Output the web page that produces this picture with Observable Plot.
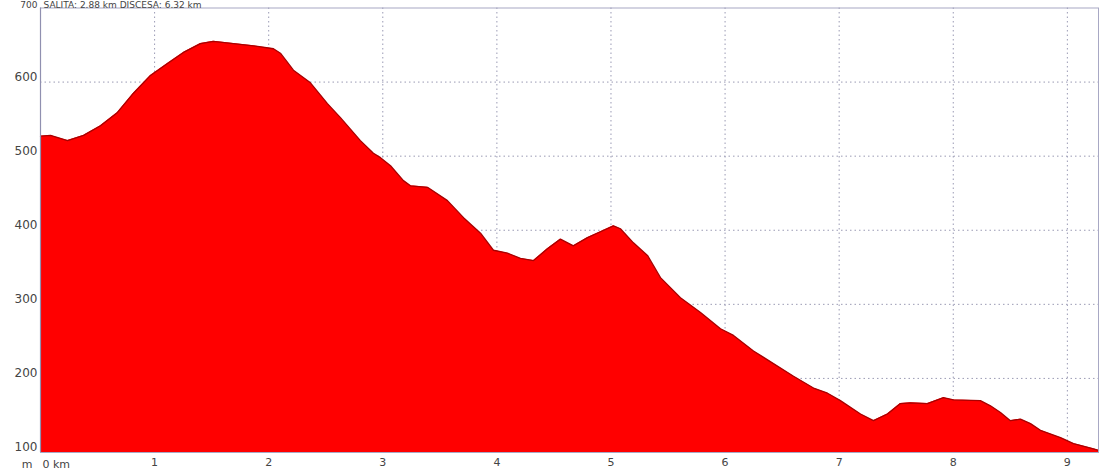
<!DOCTYPE html>
<html>
<head>
<meta charset="utf-8">
<script src="https://cdn.jsdelivr.net/npm/d3@7"></script>
<script src="https://cdn.jsdelivr.net/npm/@observablehq/plot@0.6"></script>
<style>
  html, body { margin: 0; padding: 0; background: #fff; }
  #chart { width: 1102px; height: 470px; overflow: hidden; }
</style>
</head>
<body>
<div id="chart"></div>
<script>
// Distance along the route (km)
const distanceKm = [0, 0.088, 0.237, 0.377, 0.526, 0.675, 0.815, 0.964, 1.113, 1.253, 1.402, 1.516, 1.691, 1.867, 2.042, 2.103, 2.217, 2.366, 2.515, 2.629, 2.804, 2.918, 2.980, 3.068, 3.181, 3.243, 3.392, 3.567, 3.708, 3.857, 3.970, 4.093, 4.207, 4.321, 4.443, 4.557, 4.671, 4.794, 4.908, 5.022, 5.083, 5.197, 5.320, 5.434, 5.609, 5.785, 5.960, 6.074, 6.249, 6.424, 6.600, 6.775, 6.898, 7.011, 7.187, 7.301, 7.423, 7.537, 7.625, 7.774, 7.914, 8.002, 8.238, 8.326, 8.414, 8.501, 8.589, 8.677, 8.764, 8.940, 9.054, 9.229, 9.273];
// Elevation (m)
const elevationM = [527, 528, 521, 528, 541, 559, 585, 609, 625, 640, 652, 655, 652, 649, 645, 639, 616, 599, 571, 552, 521, 504, 498, 487, 467, 460, 458, 440, 417, 396, 373, 369, 362, 359, 375, 388, 379, 390, 398, 406, 402, 383, 366, 336, 309, 289, 267, 258, 237, 220, 203, 187, 180, 170, 152, 143, 152, 166, 167, 166, 174, 171, 170, 163, 154, 143, 145, 139, 130, 120, 112, 105, 103];

const xTicks = [0, 1, 2, 3, 4, 5, 6, 7, 8, 9];
const yTicks = [100, 200, 300, 400, 500, 600];
const yTopTick = 700;
const xGrid = [1, 2, 3, 4, 5, 6, 7, 8, 9];
const yGrid = [200, 300, 400, 500, 600];
const headerText = "SALITA: 2.88 km DISCESA: 6.32 km";
const yUnit = "m";

const profile = distanceKm.map((d, i) => ({km: d, m: elevationM[i]}));

const chart = Plot.plot({
  width: 1102,
  height: 470,
  marginLeft: 40,
  marginRight: 4,
  marginTop: 7.5,
  marginBottom: 18,
  style: {fontFamily: "DejaVu Sans, sans-serif", background: "#fff"},
  x: {domain: [0, 9.273], axis: null, label: null},
  y: {domain: [100, 700], axis: null, label: null},
  marks: [
    Plot.ruleX(xGrid, {stroke: "#9a9ab4", strokeDasharray: "1.5,3", strokeWidth: 1}),
    Plot.ruleY(yGrid, {stroke: "#9a9ab4", strokeDasharray: "1.5,3", strokeWidth: 1}),
    Plot.areaY(profile, {x: "km", y1: 100, y2: "m", fill: "#ff0000", curve: "linear"}),
    Plot.lineY(profile, {x: "km", y: "m", stroke: "#a80000", strokeWidth: 1.3, curve: "linear"}),
    Plot.frame({stroke: "#a8a8c4", strokeWidth: 1}),
    Plot.ruleX([0], {stroke: "#9090b0", strokeWidth: 1.2}),
    Plot.axisY(yTicks, {tickSize: 0, tickPadding: 3, dy: -5, fontSize: 12, fill: "#444", label: null, tickFormat: d => String(d)}),
    Plot.text([String(yTopTick)], {frameAnchor: "top-left", text: d => d, textAnchor: "end", dx: -3, dy: -3, fontSize: 9, fill: "#444", lineAnchor: "middle"}),
    Plot.axisX(xTicks.slice(1), {tickSize: 0, tickPadding: 6, fontSize: 11, fill: "#444", label: null, tickFormat: d => String(d)}),
    Plot.text([xTicks[0] + " km"], {x: 0, y: 100, text: d => d, textAnchor: "start", dx: 2, dy: 12, fontSize: 11, fill: "#444"}),
    Plot.text([yUnit], {x: 0, y: 100, text: d => d, textAnchor: "end", dx: -8, dy: 12, fontSize: 11, fill: "#444"}),
    Plot.text([headerText], {frameAnchor: "top-left", text: d => d, textAnchor: "start", dx: 3, dy: -3, fontSize: 9, fill: "#444", lineAnchor: "middle"})
  ]
});
document.getElementById("chart").appendChild(chart);
</script>
</body>
</html>
